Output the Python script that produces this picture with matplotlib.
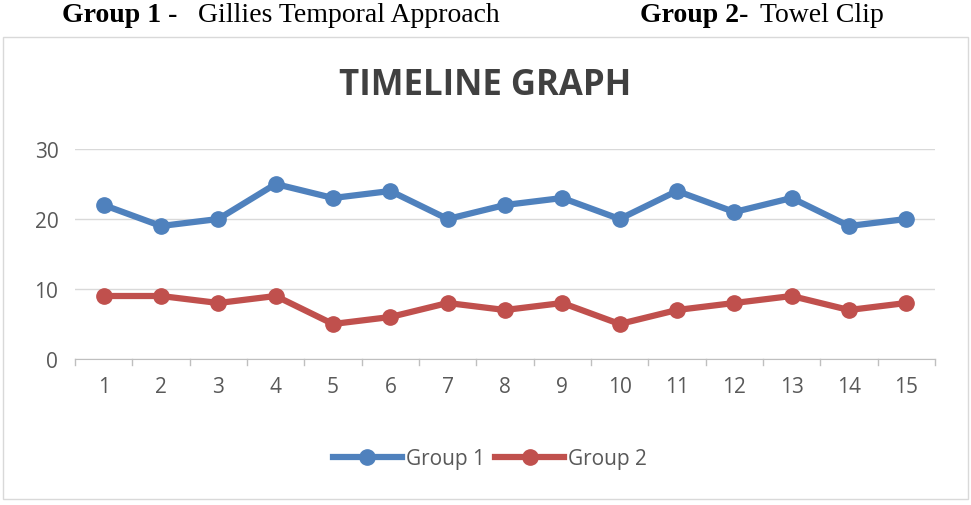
import matplotlib
matplotlib.use("Agg")
import matplotlib.pyplot as plt
from matplotlib.patches import Rectangle

categories = list(range(1, 16))
group1 = [22, 19, 20, 25, 23, 24, 20, 22, 23, 20, 24, 21, 23, 19, 20]
group2 = [9, 9, 8, 9, 5, 6, 8, 7, 8, 5, 7, 8, 9, 7, 8]
yticks = [0, 10, 20, 30]

W, H = 971, 506
fig = plt.figure(figsize=(W/100, H/100), dpi=100)
fig.patches.append(Rectangle((3/W, 1-500/H), 965/W, 462/H, transform=fig.transFigure,
                             fill=False, edgecolor="#d9d9d9", lw=1))
serif = "Liberation Serif"
fs = 20
fig.text(62/W, 1-16/H, "Group 1 -", fontfamily=serif, fontweight="bold", fontsize=fs, va="center")
fig.text(198/W, 1-16/H, "Gillies Temporal Approach", fontfamily=serif, fontsize=fs, va="center")
fig.text(640/W, 1-16/H, "Group 2-", fontfamily=serif, fontweight="bold", fontsize=fs, va="center")
fig.text(760/W, 1-16/H, "Towel Clip", fontfamily=serif, fontsize=fs, va="center")
fig.text(485/W, 1-86/H, "TIMELINE GRAPH", fontfamily="Open Sans", fontweight="bold",
         fontsize=25, color="#404040", ha="center", va="center")

ax = fig.add_axes([75/W, 1-360/H, 860/W, 210/H])
ax.plot(categories, group1, color="#4F81BD", lw=4.5, marker="o", ms=11, label="Group 1")
ax.plot(categories, group2, color="#C0504D", lw=4.5, marker="o", ms=11, label="Group 2")
ax.set_xlim(0.5, 15.5)
ax.set_ylim(0, 30)
ax.set_yticks(yticks)
ax.set_xticks(categories)
ax.grid(axis="y", color="#d9d9d9", lw=1)
ax.set_axisbelow(True)
for s in ["top", "right", "left"]:
    ax.spines[s].set_visible(False)
ax.spines["bottom"].set_color("#bfbfbf")
ax.tick_params(axis="y", length=0, pad=12, labelsize=15, labelcolor="#595959")
ax.tick_params(axis="x", length=0, pad=12, labelsize=15, labelcolor="#595959")
for xb in [i + 0.5 for i in range(0, 16)]:
    ax.plot([xb, xb], [0, -0.9], color="#bfbfbf", lw=1, clip_on=False)
for lab in ax.get_xticklabels() + ax.get_yticklabels():
    lab.set_fontfamily("Open Sans")
leg = fig.legend(loc="center", bbox_to_anchor=(490/W, 1-460/H), ncol=2, frameon=False,
                 prop={"family": "Open Sans", "size": 15}, handlelength=3.3,
                 columnspacing=0.5, handletextpad=0.2)
for t in leg.get_texts():
    t.set_color("#595959")
fig.savefig("out.png", dpi=100)
